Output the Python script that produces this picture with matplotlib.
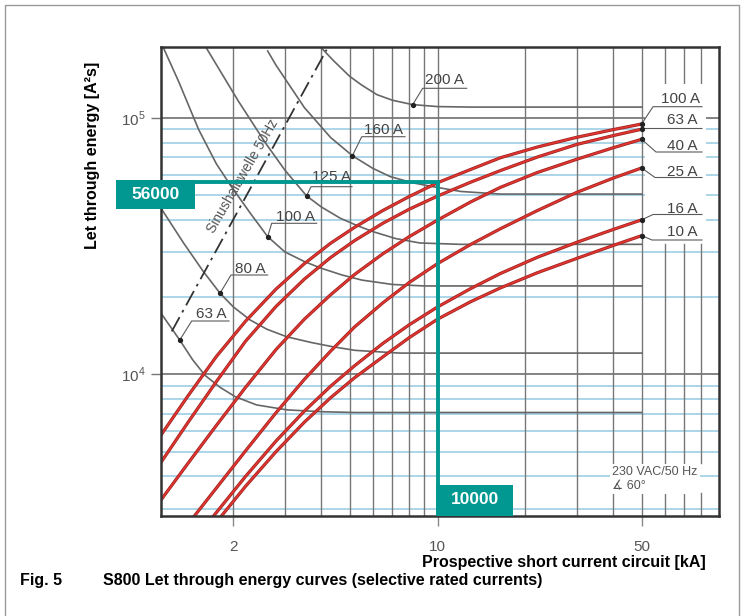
import numpy as np
import matplotlib.pyplot as plt
import matplotlib.patheffects as pe
from matplotlib.patches import Rectangle
from matplotlib.lines import Line2D
from matplotlib.ticker import NullLocator

plt.rcParams['font.family'] = ['Liberation Sans', 'DejaVu Sans']
plt.rcParams['mathtext.fontset'] = 'custom'
plt.rcParams['mathtext.rm'] = 'Liberation Sans'

# S800 let-through curves (red), prospective current in kA -> I2t in A2s
mcb_100a_ka = [1.13, 1.4, 1.75, 2.2, 2.8, 3.5, 4.3, 5.2, 6.5, 8, 10, 13, 16.4, 22, 30, 40, 50]
mcb_100a_i2t = [5800, 8260, 11750, 16100, 21500, 27000, 32400, 37400, 43500, 49300, 55800,
                62900, 69800, 76900, 83900, 89900, 94500]
mcb_63a_ka = [1.13, 1.4, 1.75, 2.2, 2.8, 3.5, 4.3, 5.2, 6.5, 8, 10, 13, 16.4, 22, 30, 40, 50]
mcb_63a_i2t = [4540, 6510, 9380, 13450, 18400, 23500, 28500, 33200, 38800, 44000, 49500,
               56100, 62200, 70300, 78700, 85200, 90200]
mcb_40a_ka = [1.13, 1.4, 1.75, 2.2, 2.8, 3.5, 4.3, 5.2, 6.5, 8, 10, 13, 16.4, 22, 30, 40, 50]
mcb_40a_i2t = [3240, 4510, 6330, 8890, 12500, 16400, 20400, 24500, 29500, 34400, 39900,
               47000, 53500, 61200, 68900, 76400, 82400]
mcb_25a_ka = [1.47, 1.75, 2.2, 2.8, 3.5, 4.3, 5.2, 6.5, 8, 10, 13, 16.4, 22, 30, 40, 50]
mcb_25a_i2t = [2805, 3610, 5030, 7090, 9560, 12300, 15300, 19000, 22800, 27000, 32100,
               36900, 43500, 51200, 58200, 63700]
mcb_16a_ka = [1.71, 2.2, 2.8, 3.5, 4.3, 5.2, 6.5, 8, 10, 13, 16.4, 22, 30, 40, 50]
mcb_16a_i2t = [2805, 4000, 5500, 7190, 8980, 10800, 13200, 15600, 18300, 21600, 24700,
               28600, 32700, 36700, 40000]
mcb_10a_ka = [1.82, 2.2, 2.8, 3.5, 4.3, 5.2, 6.5, 8, 10, 13, 16.4, 22, 30, 40, 50]
mcb_10a_i2t = [2805, 3660, 5000, 6510, 8100, 9700, 11700, 13900, 16400, 19200, 21700,
               24900, 28300, 31800, 34700]

# fuse curves (grey)
fuse_200a_ka = [3.95, 4.4, 5.0, 5.5, 6.2, 7.0, 8.2, 10, 13, 50]
fuse_200a_i2t = [190000, 167000, 145000, 134000, 123000, 117000, 112500, 110500, 110000, 110000]
fuse_160a_ka = [2.62, 2.8, 3.5, 4.3, 5.11, 6.0, 6.9, 8.2, 9.7, 12, 16.4, 50]
fuse_160a_i2t = [182000, 160000, 109500, 83800, 71100, 63500, 58900, 55800, 53800, 51600, 50400, 50400]
fuse_125a_ka = [1.62, 2.08, 2.57, 3.0, 3.56, 4.0, 4.64, 5.3, 6.0, 7.2, 8.7, 12, 50]
fuse_125a_i2t = [186000, 116000, 80000, 62500, 49600, 44900, 40600, 38000, 36000, 33800, 32500, 32100, 32100]
fuse_100a_ka = [1.15, 1.3, 1.52, 1.75, 1.97, 2.3, 2.62, 3.0, 3.5, 4.0, 4.7, 5.5, 7.0, 9.0, 50]
fuse_100a_i2t = [188000, 138000, 90000, 66000, 53800, 42000, 34400, 30000, 27500, 25900, 24400,
                 23300, 22400, 22100, 22100]
fuse_80a_ka = [1.13, 1.35, 1.58, 1.80, 2.0, 2.28, 2.6, 3.05, 3.7, 4.39, 5.22, 7.4, 50]
fuse_80a_i2t = [44400, 32500, 25100, 20700, 18300, 16300, 15000, 14000, 13300, 12800, 12400, 12100, 12100]
fuse_63a_ka = [1.13, 1.31, 1.45, 1.6, 1.8, 2.03, 2.4, 3.05, 4.0, 5.22, 50]
fuse_63a_i2t = [17300, 13600, 11400, 9900, 8900, 8180, 7600, 7270, 7150, 7100, 7100]

# sinusoidal half wave 50 Hz
halfwave_ka = [1.23, 4.17]
halfwave_i2t = [14700, 184000]

mcb_labels = ['100 A', '63 A', '40 A', '25 A', '16 A', '10 A']
fuse_labels = ['200 A', '160 A', '125 A', '100 A', '80 A', '63 A']
fuse_dot_ka = [8.22, 5.11, 3.56, 2.62, 1.80, 1.31]
grid_x = [2, 3, 4, 5, 6, 7, 8, 9, 10, 20, 30, 40, 50]
grid_x_outer = [60, 70, 80]
grid_y_blue = [3000, 4000, 5000, 6000, 7000, 8000, 9000,
               20000, 30000, 40000, 50000, 60000, 70000, 80000, 90000]
grid_y_dark = [10000, 100000]
mark_ka = 10
mark_i2t = 56000

W, H = 744, 616
fig = plt.figure(figsize=(W / 100, H / 100), dpi=100)
ax = fig.add_axes([161 / W, 1 - 516 / H, 558 / W, 469 / H])
ax.set_xscale('log')
ax.set_yscale('log')
ax.set_xlim(1.13, 92)
ax.set_ylim(2805, 188600)


def px(xp, yp):
    # pixel position (from top-left) -> data coords
    return ax.transData.inverted().transform((xp, H - yp))


grey = '#5a5a5a'
for g in grid_y_blue:
    ax.axhline(g, color='#a5d3e6', lw=1.3, zorder=1)
for g in grid_y_dark:
    ax.axhline(g, color='#6e6e6e', lw=1.2, zorder=1)
for g in grid_x:
    ax.axvline(g, color='#777777', lw=1.0, zorder=1)
for g in grid_x_outer:
    for lo, hi in [(0.923, 1.0), (0.113, 0.58), (0.0, 0.049)]:
        ax.axvline(g, ymin=lo, ymax=hi, color='#777777', lw=1.0, zorder=1)

# white label column
x0, y0 = px(645, 242)
x1, y1 = px(706, 84)
ax.add_patch(Rectangle((x0, y0), x1 - x0, y1 - y0, facecolor='white', edgecolor='none', zorder=2))

# fuse curves
fuse_curves = [(fuse_200a_ka, fuse_200a_i2t), (fuse_160a_ka, fuse_160a_i2t),
               (fuse_125a_ka, fuse_125a_i2t), (fuse_100a_ka, fuse_100a_i2t),
               (fuse_80a_ka, fuse_80a_i2t), (fuse_63a_ka, fuse_63a_i2t)]
for k, v in fuse_curves:
    ax.plot(k, v, color='#666666', lw=1.2, zorder=3, solid_joinstyle='round')

ax.plot(halfwave_ka, halfwave_i2t, color='#333333', lw=1.3, zorder=3,
        dashes=[9, 3, 1.5, 3])

# MCB curves
mcb_curves = [(mcb_100a_ka, mcb_100a_i2t), (mcb_63a_ka, mcb_63a_i2t),
              (mcb_40a_ka, mcb_40a_i2t), (mcb_25a_ka, mcb_25a_i2t),
              (mcb_16a_ka, mcb_16a_i2t), (mcb_10a_ka, mcb_10a_i2t)]
for k, v in mcb_curves:
    ax.plot(k, v, color='#e0342e', lw=1.3, zorder=4, solid_joinstyle='round',
            path_effects=[pe.Stroke(linewidth=2.3, foreground='#9a2323'), pe.Normal()])

# fuse labels: text centre, underline y, underline x range (pixels)
fuse_lab_pos = [(444.5, 80, 88.3, 422.7, 466.7), (383.5, 130, 136.7, 361.7, 405),
                (331, 177, 186.7, 311, 352), (295, 216.5, 223.3, 271.7, 316.7),
                (250, 268.5, 275, 231, 267.7), (211, 314, 321, 191.7, 229)]
for (k, v), lab, dk, (tx, ty, uy, ux0, ux1) in zip(fuse_curves, fuse_labels, fuse_dot_ka, fuse_lab_pos):
    dv = 10 ** np.interp(np.log10(dk), np.log10(k), np.log10(v))
    a = px(ux0, uy)
    b = px(ux1, uy)
    ax.plot([dk, a[0], b[0]], [dv, a[1], b[1]], color=grey, lw=0.8, zorder=5)
    ax.plot(dk, dv, 'o', color='#222222', ms=2.8, zorder=6)
    t = px(tx, ty)
    ax.text(t[0], t[1], lab, ha='center', va='center', fontsize=11, color='#444444', zorder=6)

# MCB labels
mcb_lab_pos = [(680.5, 99.3, 106.7, 653), (682.5, 120.5, 128.5, 643), (682.5, 145.5, 152, 656),
               (682.5, 171.5, 177.5, 655), (682.5, 208.5, 214.5, 653), (682.5, 231.5, 240, 652)]
for (k, v), lab, (tx, ty, uy, ux0) in zip(mcb_curves, mcb_labels, mcb_lab_pos):
    a = px(ux0, uy)
    b = px(702, uy)
    ax.plot([k[-1], a[0], b[0]], [v[-1], a[1], b[1]], color=grey, lw=0.8, zorder=5)
    ax.plot(k[-1], v[-1], 'o', color='#222222', ms=2.8, zorder=6)
    t = px(tx, ty)
    ax.text(t[0], t[1], lab, ha='center', va='center', fontsize=11, color='#444444', zorder=6)

t = px(243, 176)
ax.text(t[0], t[1], 'Sinushalbwelle 50Hz', rotation=60, ha='center', va='center',
        fontsize=10, color='#555555', zorder=5)

t = px(612, 479)
ax.text(t[0], t[1], '230 VAC/50 Hz\n\u2221 60°', ha='left', va='center', fontsize=9,
        color='#555555', linespacing=1.3, zorder=6,
        bbox=dict(facecolor='white', edgecolor='none', pad=1.5))

# teal marker for 56000 A2s at 10 kA
teal = '#009890'
xl = px(194, 182)[0]
ax.plot([xl, mark_ka, mark_ka], [mark_i2t, mark_i2t, px(437, 486)[1]], color=teal, lw=2.8,
        zorder=7, solid_joinstyle='miter', clip_on=False)
fig.add_artist(Rectangle((116 / W, 1 - 209 / H), 79 / W, 29 / H, transform=fig.transFigure,
                         facecolor=teal, edgecolor='none', zorder=8))
fig.text(155.5 / W, 1 - 195 / H, '56000', ha='center', va='center', color='white',
         fontsize=12.5, fontweight='bold', zorder=9)
fig.add_artist(Rectangle((436 / W, 1 - 516 / H), 77 / W, 31 / H, transform=fig.transFigure,
                         facecolor=teal, edgecolor='none', zorder=8))
fig.text(474.5 / W, 1 - 500 / H, '10000', ha='center', va='center', color='white',
         fontsize=12.5, fontweight='bold', zorder=9)

# axes
ax.xaxis.set_minor_locator(NullLocator())
ax.yaxis.set_minor_locator(NullLocator())
ax.set_xticks([2, 10, 50])
ax.set_xticklabels(['2', '10', '50'])
ax.set_yticks([1e4, 1e5])
ax.set_yticklabels(['$10^4$', '$10^5$'])
ax.tick_params(axis='x', length=7, width=1, color='#888888', pad=10, labelsize=11, labelcolor='#555555')
ax.tick_params(axis='y', length=7, width=1, color='#777777', pad=4, labelsize=11, labelcolor='#555555')
for s in ax.spines.values():
    s.set_color('#333333')
    s.set_linewidth(1.8)
    s.set_zorder(10)

ax.set_ylabel('Let through energy [A²s]', fontsize=11.5, fontweight='bold')
ax.yaxis.set_label_coords(-0.11, 0.768)
fig.text(706 / W, 1 - 562 / H, 'Prospective short current circuit [kA]', ha='right', va='center',
         fontsize=11.5, fontweight='bold')
fig.text(20 / W, 1 - 580 / H, 'Fig. 5', ha='left', va='center', fontsize=11.5, fontweight='bold')
fig.text(103 / W, 1 - 580 / H, 'S800 Let through energy curves (selective rated currents)',
         ha='left', va='center', fontsize=11.5, fontweight='bold')

# page frame
fig.add_artist(Line2D([5 / W, 5 / W, 739 / W, 739 / W], [0, 1 - 5 / H, 1 - 5 / H, 0],
                      transform=fig.transFigure, color='#9a9a9a', lw=1))

fig.savefig('out.png', dpi=100)
